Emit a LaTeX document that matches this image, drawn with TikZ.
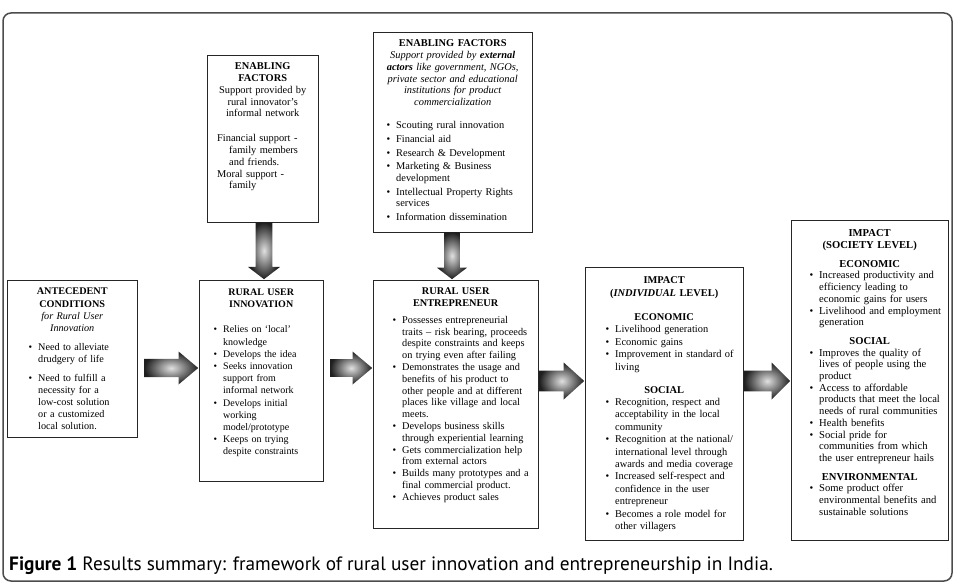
\documentclass[tikz,border=0pt]{standalone}
\usepackage{fontspec}
\setmainfont{Liberation Serif}
\newfontfamily\capfont{PT Sans}
\usetikzlibrary{shapes.arrows}

\newcommand{\boxhead}[1]{{\centering\bfseries #1\par}}
\newenvironment{pts}[2][0pt]{%
  \begin{list}{\textbullet}{%
    \setlength{\leftmargin}{#2}\setlength{\labelsep}{6pt}%
    \setlength{\labelwidth}{\dimexpr#2-6pt\relax}%
    \setlength{\itemsep}{#1}\setlength{\parsep}{0pt}%
    \setlength{\topsep}{0pt}\setlength{\partopsep}{0pt}}}%
  {\end{list}}

\begin{document}
\begin{tikzpicture}[x=1pt,y=-1pt,
    box/.style={draw=black!85, line width=1.2pt, fill=white, inner sep=0pt, anchor=north west},
    txt/.style={inner sep=0pt, align=left, anchor=north west},
    bigarrow/.style={single arrow, anchor=tail, inner xsep=0pt, draw=none,
      shade, inner color=black!12, outer color=black!88}]
    \useasboundingbox (0,0) rectangle (955,583);

    % Frame
    \draw[black!70, line width=1.5pt, rounded corners=8pt] (3,13) rectangle (952,581);

    % Boxes
    \node[box, minimum width=130, minimum height=157] (ante) at (7,280) {};
    \node[box, minimum width=111, minimum height=167] (inf) at (207,55) {};
    \node[box, minimum width=124, minimum height=201] (innov) at (199,280) {};
    \node[box, minimum width=159, minimum height=200] (ext) at (373,32) {};
    \node[box, minimum width=165, minimum height=248] (entr) at (373,280) {};
    \node[box, minimum width=158, minimum height=273] (indiv) at (585,267) {};
    \node[box, minimum width=157, minimum height=320] (soc) at (791,220) {};

    % Texts
    \node[txt, text width=116, font=\fontsize{10.2}{12.2}\selectfont] (antetxt) at ([xshift=7pt,yshift=-8pt]ante.north west) {%
      \boxhead{ANTECEDENT\\CONDITIONS}
      {\centering\itshape for Rural User\\Innovation\par}
      \vspace{7pt}
      \begin{pts}[6pt]{24pt}
        \item Need to alleviate\\drudgery of life
        \item Need to fulfill a\\necessity for a\\low-cost solution\\or a customized\\local solution.
      \end{pts}};
    \node[txt, text width=100, font=\fontsize{10.4}{11.8}\selectfont] (inftxt) at ([xshift=5.5pt,yshift=-7.6pt]inf.north west) {%
      \boxhead{ENABLING\\FACTORS}
      {\centering Support provided by\\rural innovator's\\informal network\par}
      \vspace{13pt}
      \hspace*{4.5pt}Financial support -\\
      \hspace*{16.5pt}family members\\
      \hspace*{16.5pt}and friends.\\
      \hspace*{4.5pt}Moral support -\\
      \hspace*{16.5pt}family};
    \node[txt, text width=110, font=\fontsize{10}{12.2}\selectfont] (innovtxt) at ([xshift=7pt,yshift=-8.6pt]innov.north west) {%
      \boxhead{RURAL USER\\INNOVATION}
      \vspace{13pt}
      \begin{pts}{17pt}
        \item Relies on `local'\\knowledge
        \item Develops the idea
        \item Seeks innovation\\support from\\informal network
        \item Develops initial\\working\\model/prototype
        \item Keeps on trying\\despite constraints
      \end{pts}};
    \node[txt, text width=145, font=\fontsize{10.4}{11.8}\selectfont] (exttxt) at ([xshift=7pt,yshift=-7.6pt]ext.north west) {%
      \boxhead{ENABLING FACTORS}
      {\centering\itshape Support provided by \textbf{external}\\\textbf{actors} like government, NGOs,\\private sector and educational\\institutions for product\\commercialization\par}
      \vspace{11.5pt}
      \begin{pts}[1.8pt]{16pt}
        \item Scouting rural innovation
        \item Financial aid
        \item Research \& Development
        \item Marketing \& Business\\development
        \item Intellectual Property Rights\\services
        \item Information dissemination
      \end{pts}};
    \node[txt, text width=155, font=\fontsize{10.3}{11.8}\selectfont] (entrtxt) at ([xshift=5pt,yshift=-7.6pt]entr.north west) {%
      \boxhead{RURAL USER\\ENTREPRENEUR}
      \vspace{5pt}
      \begin{pts}{24pt}
        \item Possesses entrepreneurial\\traits -- risk bearing, proceeds\\despite constraints and keeps\\on trying even after failing
        \item Demonstrates the usage and\\benefits of his product to\\other people and at different\\places like village and local\\meets.
        \item Develops business skills\\through experiential learning
        \item Gets commercialization help\\from external actors
        \item Builds many prototypes and a\\final commercial product.
        \item Achieves product sales
      \end{pts}};
    \node[txt, text width=146, font=\fontsize{10.4}{12.4}\selectfont] (indivtxt) at ([xshift=6pt,yshift=-9.6pt]indiv.north west) {%
      \boxhead{IMPACT\\(\textit{INDIVIDUAL} LEVEL)}
      \vspace{12pt}
      \boxhead{ECONOMIC}
      \begin{pts}{24pt}
        \item Livelihood generation
        \item Economic gains
        \item Improvement in standard of\\living
      \end{pts}
      \vspace{10.6pt}
      \boxhead{SOCIAL}
      \begin{pts}{24pt}
        \item Recognition, respect and\\acceptability in the local\\community
        \item Recognition at the national/\\international level through\\awards and media coverage
        \item Increased self-respect and\\confidence in the user\\entrepreneur
        \item Becomes a role model for\\other villagers
      \end{pts}};
    \node[txt, text width=147, font=\fontsize{10.6}{11.7}\selectfont] (soctxt) at ([xshift=5pt,yshift=-9.6pt]soc.north west) {%
      \boxhead{IMPACT\\(SOCIETY LEVEL)}
      \vspace{7pt}
      \boxhead{ECONOMIC}
      \begin{pts}{23pt}
        \item Increased productivity and\\efficiency leading to\\economic gains for users
        \item Livelihood and employment\\generation
      \end{pts}
      \vspace{7pt}
      \boxhead{SOCIAL}
      \begin{pts}{23pt}
        \item Improves the quality of\\lives of people using the\\product
        \item Access to affordable\\products that meet the local\\needs of rural communities
        \item Health benefits
        \item Social pride for\\communities from which\\the user entrepreneur hails
      \end{pts}
      \vspace{7pt}
      \boxhead{ENVIRONMENTAL}
      \begin{pts}{23pt}
        \item Some product offer\\environmental benefits and\\sustainable solutions
      \end{pts}};

    % Arrows
    \node[bigarrow, minimum height=54, minimum width=33, inner ysep=8.5pt, single arrow tip angle=80] (ar1) at (144,368) {};
    \node[bigarrow, minimum height=42, minimum width=33, inner ysep=8pt, single arrow tip angle=80] (ar2) at (330,368) {};
    \node[bigarrow, minimum height=45, minimum width=37, inner ysep=9pt, single arrow tip angle=84] (ar3) at (539,381) {};
    \node[bigarrow, minimum height=46, minimum width=37, inner ysep=9pt, single arrow tip angle=90] (ar4) at (744,381) {};
    \node[bigarrow, rotate=-90, minimum height=57, minimum width=32, inner ysep=7.5pt, single arrow tip angle=105] (ar5) at (264,222) {};
    \node[bigarrow, rotate=-90, minimum height=47, minimum width=30, inner ysep=7.5pt, single arrow tip angle=105] (ar6) at (452,232) {};

    % Caption
    \node[anchor=west, inner sep=0pt, font=\capfont\fontsize{19.3}{22}\selectfont] (cap) at (9,566)
      {\textbf{Figure 1} Results summary: framework of rural user innovation and entrepreneurship in India.};
\end{tikzpicture}
\end{document}
